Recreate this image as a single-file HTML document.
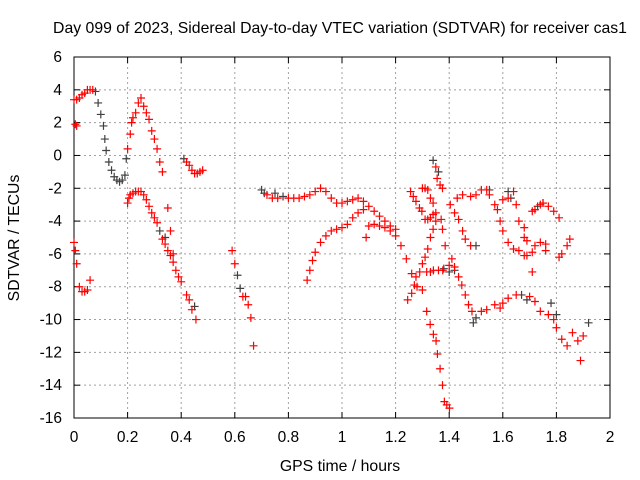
<!DOCTYPE html>
<html><head><meta charset="utf-8"><style>
html,body{margin:0;padding:0;background:#fff;}
svg{display:block;font-family:"Liberation Sans",sans-serif;}
</style></head><body>
<svg id="chart" width="640" height="480" viewBox="0 0 640 480">
<text x="340" y="33" font-size="15.8" text-anchor="middle">Day 099 of 2023, Sidereal Day-to-day VTEC variation (SDTVAR) for receiver cas1</text>
<g id="grid"></g>
<g id="axes"></g>
<g id="marks"></g>
<text x="340" y="471" font-size="15.8" text-anchor="middle">GPS time / hours</text>
<text transform="translate(19,238) rotate(-90)" font-size="15.8" text-anchor="middle">SDTVAR / TECUs</text>
</svg>
<script>
const xTicks = [0,0.2,0.4,0.6,0.8,1,1.2,1.4,1.6,1.8,2];
const yTicks = [6,4,2,0,-2,-4,-6,-8,-10,-12,-14,-16];
const redX = [0,0.01,0.02,0.03,0.04,0.05,0.06,0.07,0.005,0.01,0.2,0.21,0.215,0.22,0.23,0.24,0.25,0.26,0.27,0.28,0.29,0.3,0.31,0.32,0.33,0.35,0.36,0.37,0.42,0.43,0.44,0.45,0.46,0.47,0.48,
0,0.005,0.01,0.02,0.03,0.04,0.05,0.06,0.2,0.205,0.21,0.22,0.23,0.24,0.25,0.26,0.27,0.28,0.29,0.3,0.31,0.33,0.34,0.35,0.36,0.37,0.38,0.39,0.40,0.42,0.43,0.44,0.455,
0.59,0.6,0.63,0.64,0.65,0.66,0.67,
0.72,0.74,0.76,0.8,0.82,0.84,0.86,0.88,0.9,0.92,0.94,0.96,0.98,1.0,1.02,1.04,1.06,1.08,1.1,1.12,1.14,1.16,1.18,1.2,
0.87,0.88,0.89,0.9,0.92,0.94,0.96,0.98,1.0,1.02,1.04,1.06,1.08,1.09,1.1,1.12,1.14,1.16,1.18,1.2,1.22,1.24,1.26,1.28,1.3,
1.35,1.355,1.366,1.375,1.316,1.329,1.341,1.351,1.356,1.366,1.375,1.382,1.391,1.401,
1.256,1.266,1.276,1.289,1.298,1.31,1.32,1.33,1.34,1.404,1.43,1.45,1.48,1.5,1.52,1.54,
1.3,1.31,1.32,1.33,1.34,1.35,1.37,1.375,1.385,
1.245,1.26,1.27,1.276,1.29,1.30,1.31,1.32,1.33,1.34,1.35,
1.316,1.33,1.341,1.36,1.376,1.4,1.41,1.42,1.435,1.447,1.46,1.472,1.485,1.52,1.54,1.57,1.59,1.6,1.62,1.65,1.7,1.72,1.74,1.77,1.79,1.8,1.82,1.84,1.86,1.88,1.89,1.9,
1.42,1.435,1.45,1.46,1.48,
1.55,1.57,1.58,1.59,1.6,1.62,1.64,1.66,1.68,1.69,1.71,1.72,1.74,1.76,1.76,1.81,1.82,1.84,1.85,
1.6,1.62,1.64,1.65,1.66,1.68,1.68,1.69,1.71,1.72,1.74,1.75,1.77,1.79,1.81,1.71];
const redY = [3.4,3.4,3.5,3.7,3.8,4,4,4,1.9,1.8,0.4,1.3,2.0,2.3,2.6,3.2,3.5,3.0,2.6,2.2,1.5,1.0,0.4,-0.4,-1.0,-3.2,-4.6,-6.0,-0.4,-0.6,-0.9,-1.1,-1.1,-1.0,-0.9,
-5.3,-5.8,-6.6,-8.0,-8.3,-8.3,-8.2,-7.6,-2.9,-2.6,-2.4,-2.3,-2.2,-2.2,-2.2,-2.4,-2.7,-3.1,-3.5,-3.8,-4.1,-5.1,-5.4,-5.8,-6.1,-6.5,-7.0,-7.4,-7.7,-8.5,-8.8,-9.4,-10.0,
-5.8,-6.6,-8.6,-8.6,-9.1,-9.9,-11.6,
-2.4,-2.6,-2.6,-2.6,-2.6,-2.6,-2.5,-2.4,-2.2,-2.0,-2.2,-2.6,-2.9,-2.9,-2.8,-2.7,-2.6,-2.8,-3.1,-3.4,-3.7,-4.0,-4.3,-4.5,
-7.6,-7.0,-6.4,-5.9,-5.3,-4.9,-4.6,-4.5,-4.4,-4.2,-3.8,-3.5,-3.3,-5.0,-4.3,-4.2,-4.3,-4.4,-4.6,-4.9,-5.5,-6.3,-7.2,-8.0,-8.2,
-0.7,-1.4,-1.8,-2.0,-9.5,-10.3,-10.9,-11.3,-12.1,-13.0,-14.0,-15.0,-15.2,-15.4,
-2.2,-2.5,-2.8,-3.2,-3.4,-3.9,-3.9,-3.8,-3.6,-3.0,-2.6,-2.4,-2.5,-2.4,-2.1,-2.1,
-2.0,-2.0,-2.1,-2.6,-2.9,-3.5,-3.9,-4.5,-5.5,
-8.8,-8.4,-7.9,-7.4,-7.1,-6.6,-6.2,-5.7,-5.0,-4.5,-4.0,
-7.1,-7.1,-7.0,-7.0,-7.0,-6.7,-6.3,-6.8,-7.4,-7.9,-8.5,-9.1,-9.5,-9.5,-9.4,-9.1,-9.3,-9.0,-8.7,-8.5,-8.6,-8.9,-9.5,-9.7,-10.0,-10.5,-11.2,-11.6,-10.8,-11.3,-12.5,-11.0,
-3.5,-3.9,-4.6,-5.1,-5.5,
-2.4,-3.0,-3.3,-4.0,-4.6,-5.3,-5.7,-5.8,-6.1,-6.1,-5.9,-5.5,-5.3,-5.4,-5.8,-6.2,-6.0,-5.5,-5.1,
-2.7,-2.6,-2.2,-3.0,-4.0,-4.4,-5.0,-5.2,-3.4,-3.3,-3.0,-2.9,-3.1,-3.4,-3.8,-7.1];
const grayX = [0.08,0.09,0.1,0.11,0.115,0.12,0.13,0.14,0.15,0.16,0.17,0.18,0.19,0.195,0.32,0.34,0.41,0.45,0.61,0.62,0.7,0.71,0.75,0.78,1.34,1.36,1.38,1.40,1.42,1.49,1.5,1.5,1.55,1.62,1.63,1.67,1.69,1.73,1.75,1.78,1.8,1.92];
const grayY = [3.9,3.2,2.5,1.8,1.0,0.3,-0.4,-0.9,-1.3,-1.5,-1.6,-1.5,-1.2,-0.2,-4.6,-5.0,-0.2,-9.2,-7.3,-8.1,-2.1,-2.3,-2.3,-2.5,-0.3,-1.0,-6.9,-7.1,-7.0,-10.2,-9.9,-5.5,-2.1,-2.2,-2.6,-8.5,-8.8,-3.1,-2.9,-9.0,-9.7,-10.2];

const L=74,R=610,T=57,B=418;
const sx=v=>L+(v-0)/(2-0)*(R-L);
const sy=v=>B-(v-(-16))/(6-(-16))*(B-T);
const NS="http://www.w3.org/2000/svg";
function mk(tag,attrs,parent){const e=document.createElementNS(NS,tag);for(const k in attrs)e.setAttribute(k,attrs[k]);parent.appendChild(e);return e;}
const grid=document.getElementById('grid'),axes=document.getElementById('axes'),marks=document.getElementById('marks');
xTicks.forEach((t,i)=>{
  const x=sx(t);
  if(i>0&&i<xTicks.length-1){const g=mk('line',{x1:x,x2:x,y1:T,y2:B,stroke:'#a0a0a0','stroke-dasharray':'2,3','stroke-width':1},grid);
  
  }
  mk('line',{x1:x,x2:x,y1:B,y2:B-6,stroke:'#000'},axes);
  mk('line',{x1:x,x2:x,y1:T,y2:T+6,stroke:'#000'},axes);
  const tx=mk('text',{x:x,y:B+24,'font-size':15.5,'text-anchor':'middle'},axes);
  tx.textContent=String(t);
  
  
});
yTicks.forEach((t,i)=>{
  const y=sy(t);
  if(i>0&&i<yTicks.length-1){const g=mk('line',{x1:L,x2:R,y1:y,y2:y,stroke:'#a0a0a0','stroke-dasharray':'2,3','stroke-width':1},grid);
  
  }
  mk('line',{x1:L,x2:L+6,y1:y,y2:y,stroke:'#000'},axes);
  mk('line',{x1:R,x2:R-6,y1:y,y2:y,stroke:'#000'},axes);
  const tx=mk('text',{x:L-12,y:y+5,'font-size':15.5,'text-anchor':'end'},axes);
  tx.textContent=String(t);
  
  
});
const frame=mk('rect',{x:L,y:T,width:R-L,height:B-T,fill:'none',stroke:'#000','stroke-width':1},axes);


function plus(xs,ys,color,name){
  for(let i=0;i<xs.length;i++){
    const x=sx(xs[i]),y=sy(ys[i]);
    const p=mk('path',{d:`M${x-4},${y}H${x+4}M${x},${y-4}V${y+4}`,stroke:color,'stroke-width':1.2,fill:'none'},marks);
    
    
  }
}
plus(grayX,grayY,'#404040','gray-point');
plus(redX,redY,'#ff0000','red-point');
</script>
</body></html>
